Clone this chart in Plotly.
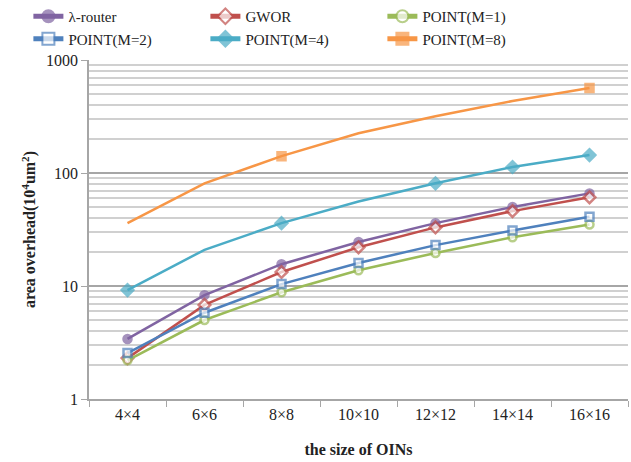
import plotly.graph_objects as go

categories = ["4×4", "6×6", "8×8", "10×10", "12×12", "14×14", "16×16"]

lambda_router = [3.4, 8.3, 15.6, 24.5, 36, 50, 66]
gwor = [2.3, 6.8, 13.3, 22, 33, 46, 61]
point_m1 = [2.2, 5.0, 8.8, 13.8, 19.6, 27, 35]
point_m2 = [2.55, 5.8, 10.4, 16, 23, 31, 41]
point_m4 = [9.2, 20.9, 36, 56, 81, 113, 144]
point_m8 = [36, 81, 141, 225, 318, 434, 565]

series_names = ["λ-router", "GWOR", "POINT(M=1)", "POINT(M=2)", "POINT(M=4)", "POINT(M=8)"]

# style definitions
styles = [
    dict(color="#8064A2", symbol="circle", fill="#8064A2", size=8, show=[1, 1, 1, 1, 1, 1, 1]),
    dict(color="#C0504D", symbol="diamond", fill="white", size=9, show=[1, 1, 1, 1, 1, 1, 1]),
    dict(color="#9BBB59", symbol="circle", fill="white", size=8, show=[1, 1, 1, 1, 1, 1, 1]),
    dict(color="#4F81BD", symbol="square", fill="white", size=8, show=[1, 1, 1, 1, 1, 1, 1]),
    dict(color="#4BACC6", symbol="diamond", fill="#4BACC6", size=9, show=[1, 0, 1, 0, 1, 1, 1]),
    dict(color="#F79646", symbol="square", fill="#F79646", size=8, show=[0, 0, 1, 0, 0, 0, 1]),
]

all_values = [lambda_router, gwor, point_m1, point_m2, point_m4, point_m8]

fig = go.Figure()
for name, vals, st in zip(series_names, all_values, styles):
    sizes = [st["size"] if s else 0 for s in st["show"]]
    fig.add_trace(go.Scatter(
        x=categories, y=vals, name=name, mode="lines+markers",
        line=dict(color=st["color"], width=2.5),
        marker=dict(symbol=st["symbol"], color=st["fill"], size=sizes,
                    line=dict(color=st["color"], width=2.5)),
    ))

serif = "Liberation Serif, Times New Roman, serif"

fig.update_layout(
    width=631, height=462,
    paper_bgcolor="white", plot_bgcolor="white",
    margin=dict(l=89, r=3, t=60, b=63, autoexpand=False),
    font=dict(family=serif, size=15, color="#222"),
    showlegend=True,
    legend=dict(
        orientation="h", xref="container", yref="container",
        x=0.045, y=1.0, xanchor="left", yanchor="top",
        entrywidth=132, font=dict(size=15, family=serif, color="#222"),
        itemsizing="constant", tracegroupgap=0, bgcolor="rgba(0,0,0,0)",
    ),
    xaxis=dict(
        type="category", showgrid=False, showline=True, linecolor="#a6a6a6", linewidth=1.5,
        ticks="outside", tickson="boundaries", ticklen=6, tickcolor="#a6a6a6",
        tickfont=dict(size=16), range=[-0.5, 6.5],
        title=dict(text="<b>the size of OINs</b>", font=dict(size=16), standoff=22),
    ),
    yaxis=dict(
        type="log", range=[0, 3], dtick=1, showline=True, linecolor="#a6a6a6", linewidth=1.5,
        ticks="outside", ticklen=6, tickcolor="#a6a6a6",
        showgrid=True, gridcolor="#a6a6a6", gridwidth=1.5,
        minor=dict(showgrid=True, gridcolor="#d0d0d0", gridwidth=1.5, dtick="D1", ticks=""),
        tickfont=dict(size=16), zeroline=False,
        title=dict(text="<b>area overhead(10<sup>4</sup>um<sup>2</sup>)</b>", font=dict(size=16), standoff=6),
    ),
)

fig.write_html("out.html")
